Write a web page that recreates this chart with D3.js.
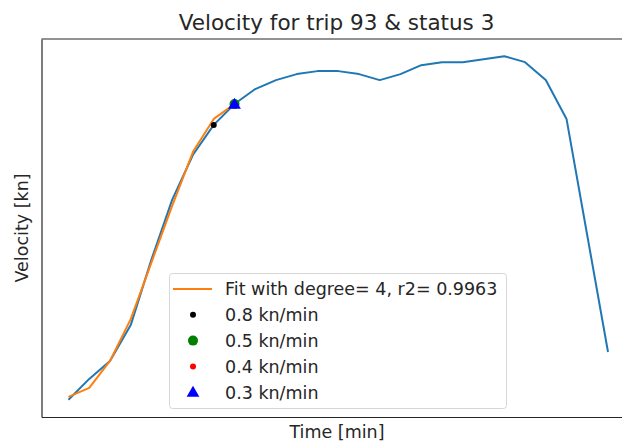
<!DOCTYPE html>
<html>
<head>
<meta charset="utf-8">
<script src="https://cdn.jsdelivr.net/npm/d3@7"></script>
<style>
  body { margin: 0; background: #fff; }
  text { font-family: "DejaVu Sans", sans-serif; fill: #262626; }
</style>
</head>
<body>
<div class="chart"></div>
<script>
var times = [0, 1, 2, 3, 4, 5, 6, 7, 8, 9, 10, 11, 12, 13, 14, 15, 16, 17, 18, 19, 20, 21, 22, 23, 24, 25, 26];
var velocity = [1.0, 1.7, 2.3, 3.5, 5.7, 7.7, 9.2, 10.2, 10.9, 11.4, 11.7, 11.9, 12.0, 12.0, 11.9, 11.7, 11.9, 12.2, 12.3, 12.3, 12.4, 12.5, 12.3, 11.7, 10.4, 6.5, 2.6];
var fitTimes = [0, 1, 2, 3, 4, 5, 6, 7, 8];
var fitVelocity = [1.1, 1.4, 2.3, 3.7, 5.6, 7.5, 9.3, 10.4, 10.9];
var fitLabel = "Fit with degree= 4, r2= 0.9963";
var rateLabels = ["0.8 kn/min", "0.5 kn/min", "0.4 kn/min", "0.3 kn/min"];
var rateTimes = [7, 8, 8, 8];
var rateColors = ["black", "green", "red", "blue"];
var rateShapes = ["dot", "circle", "dot", "triangle"];

var width = 622, height = 446;
var margin = {top: 39, left: 41.5, bottom: 29};
var plotRight = 635;

var svg = d3.select('div.chart').append('svg')
    .attr('width', width)
    .attr('height', height);

var allV = velocity.concat(fitVelocity);
var vMin = d3.min(allV), vMax = d3.max(allV);
var vPad = (vMax - vMin) * 0.05;
var tPad = (d3.max(times) - d3.min(times)) * 0.05;

var xScale = d3.scaleLinear()
    .domain([d3.min(times) - tPad, d3.max(times) + tPad])
    .range([margin.left, plotRight]);
var yScale = d3.scaleLinear()
    .domain([vMin - vPad, vMax + vPad])
    .range([height - margin.bottom, margin.top]);

// axes without ticks, like the original figure
var xAxis = d3.axisBottom(xScale).tickValues([]).tickSizeOuter(0);
var yAxis = d3.axisLeft(yScale).tickValues([]).tickSizeOuter(0);

svg.append('g')
  .attr('class', 'x axis')
  .attr('transform', 'translate(0,' + (height - margin.bottom) + ')')
  .call(xAxis);
svg.append('g')
  .attr('class', 'y axis')
  .attr('transform', 'translate(' + margin.left + ',0)')
  .call(yAxis);
svg.append('line')
  .attr('x1', margin.left).attr('x2', plotRight)
  .attr('y1', margin.top).attr('y2', margin.top)
  .attr('stroke', '#262626').attr('stroke-width', 1.2);
svg.selectAll('.axis path').attr('stroke', '#262626').attr('stroke-width', 1.2);

var line = d3.line()
    .x(function (d) { return xScale(d[0]); })
    .y(function (d) { return yScale(d[1]); });

svg.append('path')
  .attr('d', line(d3.zip(times, velocity)))
  .attr('stroke', '#1f77b4')
  .attr('stroke-width', 2)
  .attr('stroke-linejoin', 'round')
  .attr('fill', 'none');

svg.append('path')
  .attr('d', line(d3.zip(fitTimes, fitVelocity)))
  .attr('stroke', '#ff7f0e')
  .attr('stroke-width', 2)
  .attr('stroke-linejoin', 'round')
  .attr('fill', 'none');

function drawMarker(g, shape, color, cx, cy) {
  if (shape === 'triangle') {
    g.append('path')
      .attr('d', d3.symbol().type(d3.symbolTriangle).size(70)())
      .attr('transform', 'translate(' + cx + ',' + (cy + 1) + ')')
      .attr('fill', color);
  } else {
    g.append('circle')
      .attr('cx', cx).attr('cy', cy)
      .attr('r', shape === 'circle' ? 5 : 3)
      .attr('fill', color);
  }
}

var marks = svg.append('g');
rateTimes.forEach(function (t, i) {
  var v = velocity[times.indexOf(t)];
  drawMarker(marks, rateShapes[i], rateColors[i], xScale(t), yScale(v));
});

// legend
var legend = svg.append('g').attr('class', 'legend');
legend.append('rect')
  .attr('x', 169.5).attr('y', 273.5)
  .attr('width', 337).attr('height', 135)
  .attr('rx', 3)
  .attr('fill', 'white').attr('fill-opacity', 0.8)
  .attr('stroke', '#d6d6d6');

var rowY = 289, rowStep = 25.8;
legend.append('line')
  .attr('x1', 173).attr('x2', 212)
  .attr('y1', rowY).attr('y2', rowY)
  .attr('stroke', '#ff7f0e').attr('stroke-width', 2);
legend.append('text')
  .attr('x', 225).attr('y', rowY)
  .attr('dy', '0.36em')
  .style('font-size', '17.5px')
  .text(fitLabel);

rateLabels.forEach(function (label, i) {
  var y = rowY + rowStep * (i + 1);
  drawMarker(legend, rateShapes[i], rateColors[i], 193, y);
  legend.append('text')
    .attr('x', 225).attr('y', y)
    .attr('dy', '0.36em')
    .style('font-size', '17.5px')
    .text(label);
});

svg.append('text')
  .attr('x', 336.5)
  .attr('y', 29.5)
  .attr('text-anchor', 'middle')
  .style('font-size', '21.5px')
  .text('Velocity for trip 93 & status 3');

svg.append('text')
  .attr('x', 337)
  .attr('y', 437.5)
  .attr('text-anchor', 'middle')
  .style('font-size', '17.5px')
  .text('Time [min]');

svg.append('text')
  .attr('transform', 'translate(28,' + (margin.top + height - margin.bottom) / 2 + ') rotate(-90)')
  .attr('text-anchor', 'middle')
  .style('font-size', '17.5px')
  .text('Velocity [kn]');
</script>
</body>
</html>
